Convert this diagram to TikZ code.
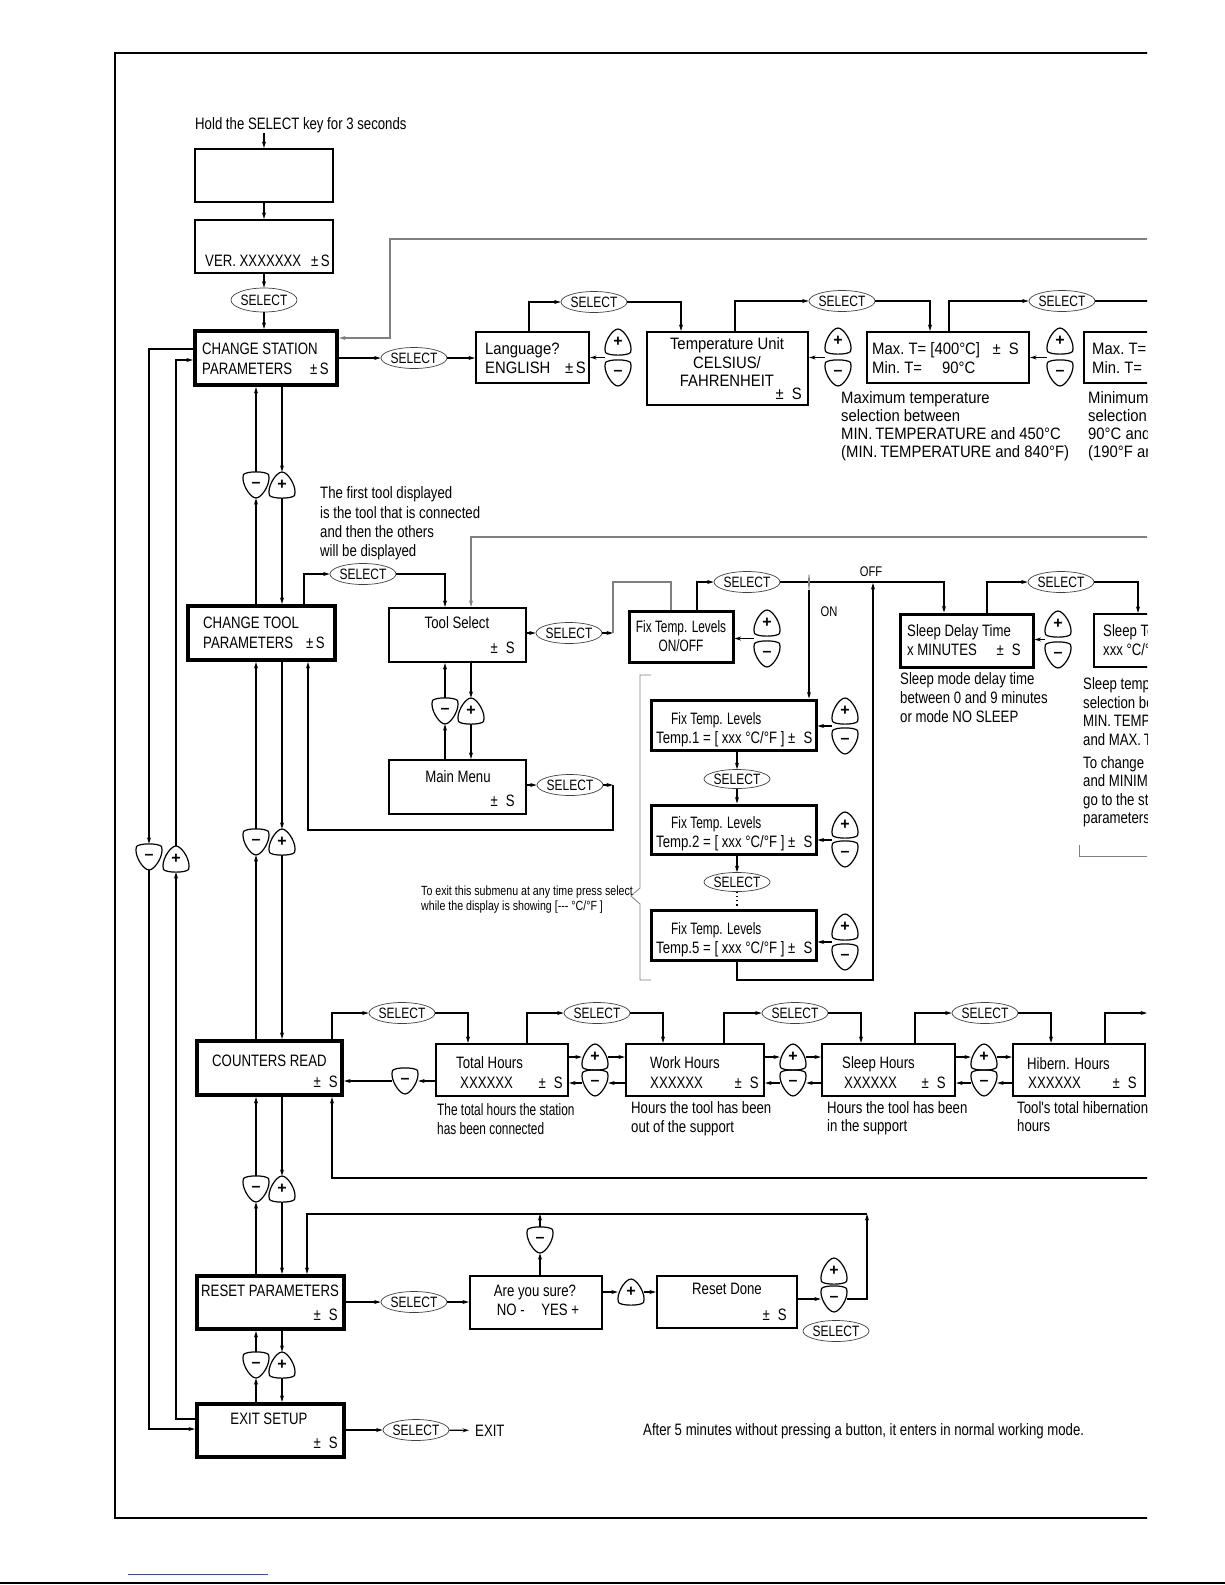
\documentclass[tikz,border=0pt]{standalone}
\usepackage{fontspec}
\setmainfont{Liberation Sans}
\newfontfamily\fa[FakeStretch=0.9]{Liberation Sans}
\newfontfamily\fb[FakeStretch=0.8]{Liberation Sans}
\newfontfamily\fc[FakeStretch=0.72]{Liberation Sans}
\usetikzlibrary{arrows.meta,shapes.geometric}

\newcommand\bxat[6]{\node[#1,minimum width={(#4)-(#2)},minimum height={(#5)-(#3)}] (#6) at ({((#2)+(#4))/2},{((#3)+(#5))/2}) {};}

\newcommand\pbtn[3]{%
  \node[btnn] (#1) at (#2,#3) {\raisebox{-3pt}{+}};
  \draw[bl] ([shift={(-12.5,10.5)}]#1.center)
    .. controls +(-3,-8) and +(-6,0) .. ([shift={(0,-13)}]#1.center)
    .. controls +(6,0) and +(3,-8) .. ([shift={(12.5,10.5)}]#1.center)
    .. controls +(-3,3.5) and +(3,3.5) .. ([shift={(-12.5,10.5)}]#1.center) -- cycle;}
\newcommand\mbtn[3]{%
  \node[btnn] (#1) at (#2,#3) {–};
  \draw[bl] ([shift={(-12.5,-10.5)}]#1.center)
    .. controls +(-3,8) and +(-6,0) .. ([shift={(0,13)}]#1.center)
    .. controls +(6,0) and +(3,8) .. ([shift={(12.5,-10.5)}]#1.center)
    .. controls +(-3,-3.5) and +(3,-3.5) .. ([shift={(-12.5,-10.5)}]#1.center) -- cycle;}

\begin{document}
\begin{tikzpicture}[x=1pt,y=-1pt,
  >={Stealth[length=6.5pt,width=4pt]},
  ln/.style={line width=1.1pt},
  gl/.style={line width=1.1pt,draw=black!50},
  bxn/.style={draw,line width=2.2pt,inner sep=0pt},
  bxm/.style={draw,line width=3pt,inner sep=0pt},
  bxk/.style={draw,line width=4.2pt,inner sep=0pt},
  sel/.style={ellipse,draw=black!75,line width=0.7pt,minimum width=55pt,minimum height=21pt,inner sep=0pt,font=\fb\fontsize{15}{15}\selectfont},
  btnn/.style={minimum width=26pt,minimum height=26pt,inner sep=0pt,font=\bfseries\fontsize{16}{16}\selectfont},
  bl/.style={line width=1.2pt,line join=round},
  tw/.style={inner sep=0pt,anchor=base west},
  te/.style={inner sep=0pt,anchor=base east},
  tc/.style={inner sep=0pt,anchor=base},
  fwide/.style={font=\fa\fontsize{16.5}{16.5}\selectfont},
  fnar/.style={font=\fb\fontsize{16.5}{16.5}\selectfont},
  fcon/.style={font=\fc\fontsize{16.5}{16.5}\selectfont},
  fsmall/.style={font=\fb\fontsize{14}{14}\selectfont},
  ftiny/.style={font=\fb\fontsize{13.3}{13.3}\selectfont}]
\useasboundingbox (0,0) rectangle (1225,1585);
\begin{scope}
\clip (0,0) rectangle (1147,1585);
\draw[line width=1.3pt] (1160,53) -- (115,53) -- (115,1518) -- (1160,1518);

% ---------- start column ----------
\node[tw,fnar] (hold) at (195,129) {Hold the SELECT key for 3 seconds};
\bxat{bxn}{195}{149}{333}{202}{a1}
\bxat{bxn}{195}{220}{333}{273}{a2}
\node[tw,fnar] (a2t) at (205,266) {VER.\ XXXXXXX};
\node[te,fnar] (a2s) at (330,266) {±\,S};
\draw[ln,->] (hold.south -| a1.north) -- (a1.north);
\draw[ln,->] (a1) -- (a2);
\node[sel,minimum width=59pt,minimum height=24pt] (s1) at (264,300) {SELECT};
\draw[ln,->] (a2) -- (s1);
\bxat{bxk}{195}{331}{337}{385}{cs}
\draw[ln,->] (s1) -- (s1 |- cs.north);
\node[tw,fnar] (cs1) at (202,354) {CHANGE STATION};
\node[tw,fnar] (cs2) at (202,374) {PARAMETERS};
\node[te,fnar] (cs3) at (329,374) {±\,S};
\coordinate (r1) at (1160,239);
\coordinate (r1b) at (390,338);
\draw[gl,->] (r1) -| (r1b) -- (r1b -| cs.east);

% ---------- station parameters row ----------
\node[sel] (s2) at (414,358) {SELECT};
\draw[ln,->] (cs) -- (s2);
\bxat{bxn}{476}{332}{589}{383}{lg}
\draw[ln,->] (s2) -- (s2 -| lg.west);
\node[tw,fwide] (lg1) at (485,354) {Language?};
\node[tw,fwide] (lg2) at (485,373) {ENGLISH};
\node[te,fwide] (lg3) at (586,373) {±\,S};
\pbtn{lgp}{618}{342}
\mbtn{lgm}{618}{373}
\coordinate (lgj) at (605,357.5);
\draw[ln,->] (lgj) -- (lgj -| lg.east);
\node[sel] (s3) at (594,302) {SELECT};
\draw[ln,->] (lg.north -| 529,0) |- (s3);
\bxat{bxn}{647}{332}{808}{405}{tu}
\draw[ln,->] (s3) -| (tu.north -| 681,0);
\node[tc,fwide] (tu1) at (727,349) {Temperature Unit};
\node[tc,fwide] (tu2) at (727,368) {CELSIUS/};
\node[tc,fwide] (tu3) at (727,386) {FAHRENHEIT};
\node[te,fwide] (tu4) at (802,399) {±\enspace S};
\pbtn{tup}{838}{341}
\mbtn{tum}{838}{373}
\coordinate (tuj) at (825,357.5);
\draw[ln,->] (tuj) -- (tuj -| tu.east);
\node[sel] (s4) at (842,301) {SELECT};
\draw[ln,->] (tu.north -| 735,0) |- (s4);
\bxat{bxn}{867}{332}{1029}{383}{mx}
\draw[ln,->] (s4) -| (mx.north -| 930,0);
\node[tw,fwide] (mx1) at (872,354) {Max.\ T= [400°C]};
\node[te,fwide] (mx2) at (1019,354) {±\enspace S};
\node[tw,fwide] (mx3) at (872,373) {Min.\ T=};
\node[tw,fwide] (mx4) at (942,373) {90°C};
\pbtn{mxp}{1060}{341}
\mbtn{mxm}{1060}{373}
\coordinate (mxj) at (1047,357.5);
\draw[ln,->] (mxj) -- (mxj -| mx.east);
\node[sel] (s5) at (1062,301) {SELECT};
\draw[ln,->] (mx.north -| 949,0) |- (s5);
\coordinate (s5e) at (1160,301);
\draw[ln] (s5) -- (s5e);
\bxat{bxn}{1084}{332}{1260}{383}{mn}
\node[tw,fwide] (mn1) at (1092,354) {Max.\ T=};
\node[tw,fwide] (mn2) at (1092,373) {Min.\ T=};
\node[tw,fwide] (an1) at (841,403) {Maximum temperature};
\node[tw,fwide] (an2) at (841,421) {selection between};
\node[tw,fwide] (an3) at (841,439) {MIN.\,TEMPERATURE and 450°C};
\node[tw,fwide] (an4) at (841,457) {(MIN.\,TEMPERATURE and 840°F)};
\node[tw,fwide] (am1) at (1088,403) {Minimum};
\node[tw,fwide] (am2) at (1088,421) {selection};
\node[tw,fwide] (am3) at (1088,439) {90°C and};
\node[tw,fwide] (am4) at (1088,457) {(190°F and};

% ---------- station <-> tool ----------
\bxat{bxk}{188}{606}{335}{660}{ct}
\mbtn{bm1}{256}{485}
\pbtn{bp1}{282}{485}
\draw[ln,->] (bm1.north) -- (bm1.north |- cs.south);
\draw[ln,->] (ct.north -| bm1) -- (bm1.south);
\draw[ln,->] (cs.south -| bp1) -- (bp1.north);
\draw[ln,->] (bp1.south) -- (bp1.south |- ct.north);
\node[tw,fnar] (ft1) at (320,498) {The first tool displayed};
\node[tw,fnar] (ft2) at (320,518) {is the tool that is connected};
\node[tw,fnar] (ft3) at (320,537) {and then the others};
\node[tw,fnar] (ft4) at (320,556) {will be displayed};
\node[tw,fnar] (ct1) at (203,628) {CHANGE TOOL};
\node[tw,fnar] (ct2) at (203,648) {PARAMETERS};
\node[te,fnar] (ct3) at (325,648) {±\,S};

% ---------- tool parameters ----------
\node[sel] (s6) at (363,574) {SELECT};
\draw[ln,->] (ct.north -| 304,0) |- (s6);
\bxat{bxn}{389}{608}{526}{662}{ts}
\draw[ln,->] (s6) -| (ts.north -| 445,0);
\node[tc,fnar] (ts1) at (457,628) {Tool Select};
\node[te,fnar] (ts2) at (515,653) {±\enspace S};
\coordinate (r2) at (1160,537);
\draw[gl,->] (r2) -| (ts.north -| 471,0);
\node[sel] (s7) at (569,633) {SELECT};
\draw[ln,->] (ts.east |- s7) -- (s7);
\coordinate (k7) at (613,633);
\draw[ln,->] (s7) -- (k7);
\bxat{bxm}{629}{611}{733}{662}{fx}
\node[sel,minimum width=51pt] (s9) at (747,582) {SELECT};
\draw[gl] (k7) -- (k7 |- s9) -| (fx.north -| 671,0);

\bxat{bxn}{389}{760}{526}{814}{mm}
\mbtn{bm2}{445}{711}
\pbtn{bp2}{471}{711}
\draw[ln,->] (bm2.north) -- (bm2.north |- ts.south);
\draw[ln,->] (mm.north -| bm2) -- (bm2.south);
\draw[ln,->] (ts.south -| bp2) -- (bp2.north);
\draw[ln,->] (bp2.south) -- (bp2.south |- mm.north);
\node[tc,fnar] (mm1) at (458,782) {Main Menu};
\node[te,fnar] (mm2) at (515,806) {±\enspace S};
\node[sel] (s8) at (570,785) {SELECT};
\draw[ln,->] (mm.east |- s8) -- (s8);
\coordinate (k8) at (613,785);
\coordinate (k8b) at (308,830);
\draw[ln,->] (s8) -- (k8);
\draw[ln,->] (k8) |- (k8b) -- (ct.south -| k8b);

\node[tc,fcon] (fx1) at (681,632) {Fix Temp. Levels};
\node[tc,fcon] (fx2) at (681,651) {ON/OFF};
\pbtn{fxp}{767}{623}
\mbtn{fxm}{767}{654}
\coordinate (fxj) at (754,638.5);
\draw[ln,->] (fxj) -- (fxj -| fx.east);
\draw[ln,->] (fx.north -| 697,0) |- (s9);
\node[draw=black!75,line width=0.7pt,diamond,aspect=1.25,minimum height=15pt,inner sep=0pt] (dm) at (809,582) {};
\draw[ln] (s9) -- (dm);
\bxat{bxm}{900}{614}{1033}{667}{sd}
\draw[ln,->] (dm) -| (sd.north -| 944,0);
\node[tc,fsmall] (off) at (871,576) {OFF};
\bxat{bxm}{651}{700}{816}{750}{t1}
\draw[ln,->] (dm) -- (dm |- t1.north);
\node[tc,fsmall] (on) at (829,616) {ON};

\node[tw,fcon] (t11) at (671,724) {Fix Temp. Levels};
\node[tw,fnar] (t12) at (656,743) {Temp.1 = [ xxx °C/°F ] ±\enspace S};
\pbtn{t1p}{845}{711}
\mbtn{t1m}{845}{741}
\coordinate (t1j) at (832,726);
\draw[ln,->] (t1j) -- (t1j -| t1.east);
\node[sel,minimum width=52pt,minimum height=19pt] (s10) at (737,779) {SELECT};
\draw[ln,->] (t1.south -| s10) -- (s10);
\bxat{bxm}{651}{805}{816}{854}{t2}
\draw[ln,->] (s10) -- (s10 |- t2.north);
\node[tw,fcon] (t21) at (671,828) {Fix Temp. Levels};
\node[tw,fnar] (t22) at (656,847) {Temp.2 = [ xxx °C/°F ] ±\enspace S};
\pbtn{t2p}{845}{825}
\mbtn{t2m}{845}{854}
\coordinate (t2j) at (832,840);
\draw[ln,->] (t2j) -- (t2j -| t2.east);
\node[sel,minimum width=52pt,minimum height=19pt] (s11) at (737,882) {SELECT};
\draw[ln,->] (t2.south -| s11) -- (s11);
\bxat{bxm}{651}{910}{816}{960}{t5}
\draw[line width=1.1pt,dash pattern=on 1.2pt off 3pt] (s11) -- (s11 |- t5.north);
\node[tw,fcon] (t51) at (671,934) {Fix Temp. Levels};
\node[tw,fnar] (t52) at (656,953) {Temp.5 = [ xxx °C/°F ] ±\enspace S};
\pbtn{t5p}{845}{927}
\mbtn{t5m}{845}{957}
\coordinate (t5j) at (832,942);
\draw[ln,->] (t5j) -- (t5j -| t5.east);
\coordinate (k5) at (873,980);
\coordinate (k5t) at (873,583);
\draw[ln,->] (t5.south -| s11) |- (k5) -- (k5t);
\draw[gl,line width=0.8pt] (651,675) -- (640,675) -- (640,888) -- (631,896) -- (640,904) -- (640,980) -- (651,980);
\node[tw,ftiny] (ex1) at (421,895) {To exit this submenu at any time press select};
\node[tw,ftiny] (ex2) at (421,910) {while the display is showing [-{}-{}- °C/°F ]};

% ---------- sleep ----------
\node[tw,fnar] (sd1) at (907,636) {Sleep Delay Time};
\node[tw,fnar] (sd2) at (907,655) {x MINUTES};
\node[te,fnar] (sd3) at (1021,655) {±\enspace S};
\pbtn{sdp}{1058}{624}
\mbtn{sdm}{1058}{655}
\coordinate (sdj) at (1045,639.5);
\draw[ln,->] (sdj) -- (sdj -| sd.east);
\node[sel,minimum width=50pt] (s12) at (1061,582) {SELECT};
\draw[ln,->] (sd.north -| 987,0) |- (s12);
\bxat{bxn}{1094}{614}{1260}{667}{st}
\draw[ln,->] (s12) -| (st.north -| 1138,0);
\node[tw,fnar] (st1) at (1103,636) {Sleep Temp.};
\node[tw,fnar] (st2) at (1103,655) {xxx °C/°F};
\node[tw,fnar] (sa1) at (900,684) {Sleep mode delay time};
\node[tw,fnar] (sa2) at (900,703) {between 0 and 9 minutes};
\node[tw,fnar] (sa3) at (900,722) {or mode NO SLEEP};
\node[tw,fnar] (sb1) at (1083,689) {Sleep temperature};
\node[tw,fnar] (sb2) at (1083,708) {selection between};
\node[tw,fnar] (sb3) at (1083,726) {MIN.\,TEMPERATURE};
\node[tw,fnar] (sb4) at (1083,745) {and MAX.\,TEMPERATURE};
\node[tw,fnar] (sb5) at (1083,768) {To change};
\node[tw,fnar] (sb6) at (1083,786) {and MINIMUM};
\node[tw,fnar] (sb7) at (1083,805) {go to the station};
\node[tw,fnar] (sb8) at (1083,823) {parameters};
\draw[gl,line width=0.8pt] (1079,845) -- (1079,856) -- (1160,856);

% ---------- tool <-> counters ----------
\bxat{bxk}{197}{1041}{342}{1095}{cr}
\mbtn{bm3}{256}{842}
\pbtn{bp3}{282}{842}
\draw[ln,->] (bm3.north) -- (bm3.north |- ct.south);
\draw[ln,->] (cr.north -| bm3) -- (bm3.south);
\draw[ln,->] (ct.south -| bp3) -- (bp3.north);
\draw[ln,->] (bp3.south) -- (bp3.south |- cr.north);
\node[tw,fnar] (cr1) at (212,1066) {COUNTERS READ};
\node[te,fnar] (cr2) at (338,1087) {±\enspace S};

% ---------- counters row ----------
\node[sel,minimum width=52pt] (s13) at (402,1013) {SELECT};
\draw[ln,->] (cr.north -| 332,0) |- (s13);
\bxat{bxn}{436}{1044}{568}{1096}{th}
\draw[ln,->] (s13) -| (th.north -| 468,0);
\coordinate (r3) at (1160,1178);
\draw[ln,->] (r3) -| (cr.south -| 332,0);
\mbtn{cm}{405}{1081}
\draw[ln,->] (th.west |- cm) -- (cm.east);
\draw[ln,->] (cm.west) -- (cm.west -| cr.east);
\node[tw,fnar] (th1) at (456,1068) {Total Hours};
\node[tw,fnar] (th2) at (460,1088) {XXXXXX};
\node[te,fnar] (th3) at (563,1088) {±\enspace S};
\node[sel,minimum width=52pt] (s14) at (597,1013) {SELECT};
\draw[ln,->] (th.north -| 527,0) |- (s14);
\bxat{bxn}{626}{1044}{764}{1096}{wh}
\draw[ln,->] (s14) -| (wh.north -| 663,0);
\pbtn{p4}{595}{1057}
\mbtn{m4}{595}{1083}
\draw[ln,->] (th.east |- p4) -- (p4.west);
\draw[ln,->] (p4.east) -- (p4.east -| wh.west);
\draw[ln,->] (wh.west |- m4) -- (m4.east);
\draw[ln,->] (m4.west) -- (m4.west -| th.east);
\node[tw,fnar] (wh1) at (650,1068) {Work Hours};
\node[tw,fnar] (wh2) at (650,1088) {XXXXXX};
\node[te,fnar] (wh3) at (759,1088) {±\enspace S};
\node[sel,minimum width=52pt] (s15) at (795,1013) {SELECT};
\draw[ln,->] (wh.north -| 724,0) |- (s15);
\bxat{bxn}{822}{1044}{955}{1096}{sl}
\draw[ln,->] (s15) -| (sl.north -| 861,0);
\pbtn{p5}{793}{1057}
\mbtn{m5}{793}{1083}
\draw[ln,->] (wh.east |- p5) -- (p5.west);
\draw[ln,->] (p5.east) -- (p5.east -| sl.west);
\draw[ln,->] (sl.west |- m5) -- (m5.east);
\draw[ln,->] (m5.west) -- (m5.west -| wh.east);
\node[tw,fnar] (sl1) at (842,1068) {Sleep Hours};
\node[tw,fnar] (sl2) at (844,1088) {XXXXXX};
\node[te,fnar] (sl3) at (946,1088) {±\enspace S};
\node[sel,minimum width=52pt] (s16) at (985,1013) {SELECT};
\draw[ln,->] (sl.north -| 915,0) |- (s16);
\bxat{bxn}{1013}{1044}{1145}{1096}{hb}
\draw[ln,->] (s16) -| (hb.north -| 1051,0);
\pbtn{p6}{984}{1057}
\mbtn{m6}{984}{1083}
\draw[ln,->] (sl.east |- p6) -- (p6.west);
\draw[ln,->] (p6.east) -- (p6.east -| hb.west);
\draw[ln,->] (hb.west |- m6) -- (m6.east);
\draw[ln,->] (m6.west) -- (m6.west -| sl.east);
\node[tw,fnar] (hb1) at (1027,1069) {Hibern. Hours};
\node[tw,fnar] (hb2) at (1028,1088) {XXXXXX};
\node[te,fnar] (hb3) at (1137,1088) {±\enspace S};
\coordinate (r4) at (1147,1013);
\draw[ln,->] (hb.north -| 1105,0) |- (r4);
\node[tw,fcon] (h1) at (437,1115) {The total hours the station};
\node[tw,fcon] (h2) at (437,1134) {has been connected};
\node[tw,fnar] (h3) at (631,1113) {Hours the tool has been};
\node[tw,fnar] (h4) at (631,1132) {out of the support};
\node[tw,fnar] (h5) at (827,1113) {Hours the tool has been};
\node[tw,fnar] (h6) at (827,1131) {in the support};
\node[tw,fnar] (h7) at (1017,1113) {Tool's total hibernation};
\node[tw,fnar] (h8) at (1017,1131) {hours};

% ---------- counters <-> reset ----------
\bxat{bxk}{197}{1276}{344}{1329}{rp}
\mbtn{bm5}{256}{1189}
\pbtn{bp5}{282}{1189}
\draw[ln,->] (bm5.north) -- (bm5.north |- cr.south);
\draw[ln,->] (rp.north -| bm5) -- (bm5.south);
\draw[ln,->] (cr.south -| bp5) -- (bp5.north);
\draw[ln,->] (bp5.south) -- (bp5.south |- rp.north);
\node[tw,fnar] (rp1) at (201,1296) {RESET PARAMETERS};
\node[te,fnar] (rp2) at (338,1320) {±\enspace S};

% ---------- reset row ----------
\node[sel] (sr) at (414,1302) {SELECT};
\draw[ln,->] (rp.east |- sr) -- (sr);
\bxat{bxn}{470}{1276}{602}{1329}{as}
\draw[ln,->] (sr) -- (sr -| as.west);
\node[tc,fnar] (as1) at (535,1296) {Are you sure?};
\node[tc,fnar] (as2) at (538,1315) {NO -\quad YES +};
\mbtn{asm}{540}{1240}
\coordinate (k9a) at (867,1214);
\draw[ln,->] (as.north -| asm) -- (asm.south);
\draw[ln,->] (asm.north) -- (asm.north |- k9a);
\pbtn{asp}{631}{1292}
\bxat{bxn}{657}{1276}{797}{1328}{rd}
\draw[ln,->] (as.east |- asp) -- (asp.west);
\draw[ln,->] (asp.east) -- (asp.east -| rd.west);
\node[tc,fnar] (rd1) at (727,1294) {Reset Done};
\node[te,fnar] (rd2) at (787,1320) {±\enspace S};
\pbtn{rdp}{834}{1271}
\mbtn{rdm}{834}{1299}
\draw[ln,->] (rd.east |- rdm) -- (rdm.west);
\draw[ln,->] (rdm.east) -| (k9a);
\draw[ln,->] (k9a) -| (rp.north -| 307,0);
\node[sel,minimum width=52pt] (srd) at (836,1331) {SELECT};

% ---------- reset <-> exit ----------
\bxat{bxk}{197}{1404}{344}{1457}{ex}
\mbtn{bm6}{256}{1365}
\pbtn{bp6}{282}{1365}
\draw[ln,->] (bm6.north) -- (bm6.north |- rp.south);
\draw[ln,->] (ex.north -| bm6) -- (bm6.south);
\draw[ln,->] (rp.south -| bp6) -- (bp6.north);
\draw[ln,->] (bp6.south) -- (bp6.south |- ex.north);
\node[tc,fnar] (ex3) at (269,1424) {EXIT SETUP};
\node[te,fnar] (ex4) at (338,1448) {±\enspace S};
\node[sel] (sx) at (416,1430) {SELECT};
\draw[ln,->] (ex.east |- sx) -- (sx);
\node[tw,fnar] (exit) at (475,1436) {EXIT};
\draw[ln,->] (sx) -- ([xshift=-6pt]exit.west);
\node[tw,fnar] (after) at (643,1435) {After 5 minutes without pressing a button, it enters in normal working mode.};

% ---------- wrap-around loop ----------
\mbtn{lm}{149}{857}
\pbtn{lp}{176}{859}
\draw[ln,->] (cs.west |- 0,349) -| (lm.north);
\draw[ln,->] (lm.south) |- (ex.west |- 0,1429);
\draw[ln,->] (ex.west |- 0,1419) -| (lp.south);
\draw[ln,->] (lp.north) |- (cs.west |- 0,360);
\end{scope}
\draw[line width=1.2pt] (0,1583) -- (1225,1583);
\draw[line width=1pt,draw={rgb,255:red,40;green,70;blue,220}] (128,1574) -- (268,1574);
\end{tikzpicture}
\end{document}
